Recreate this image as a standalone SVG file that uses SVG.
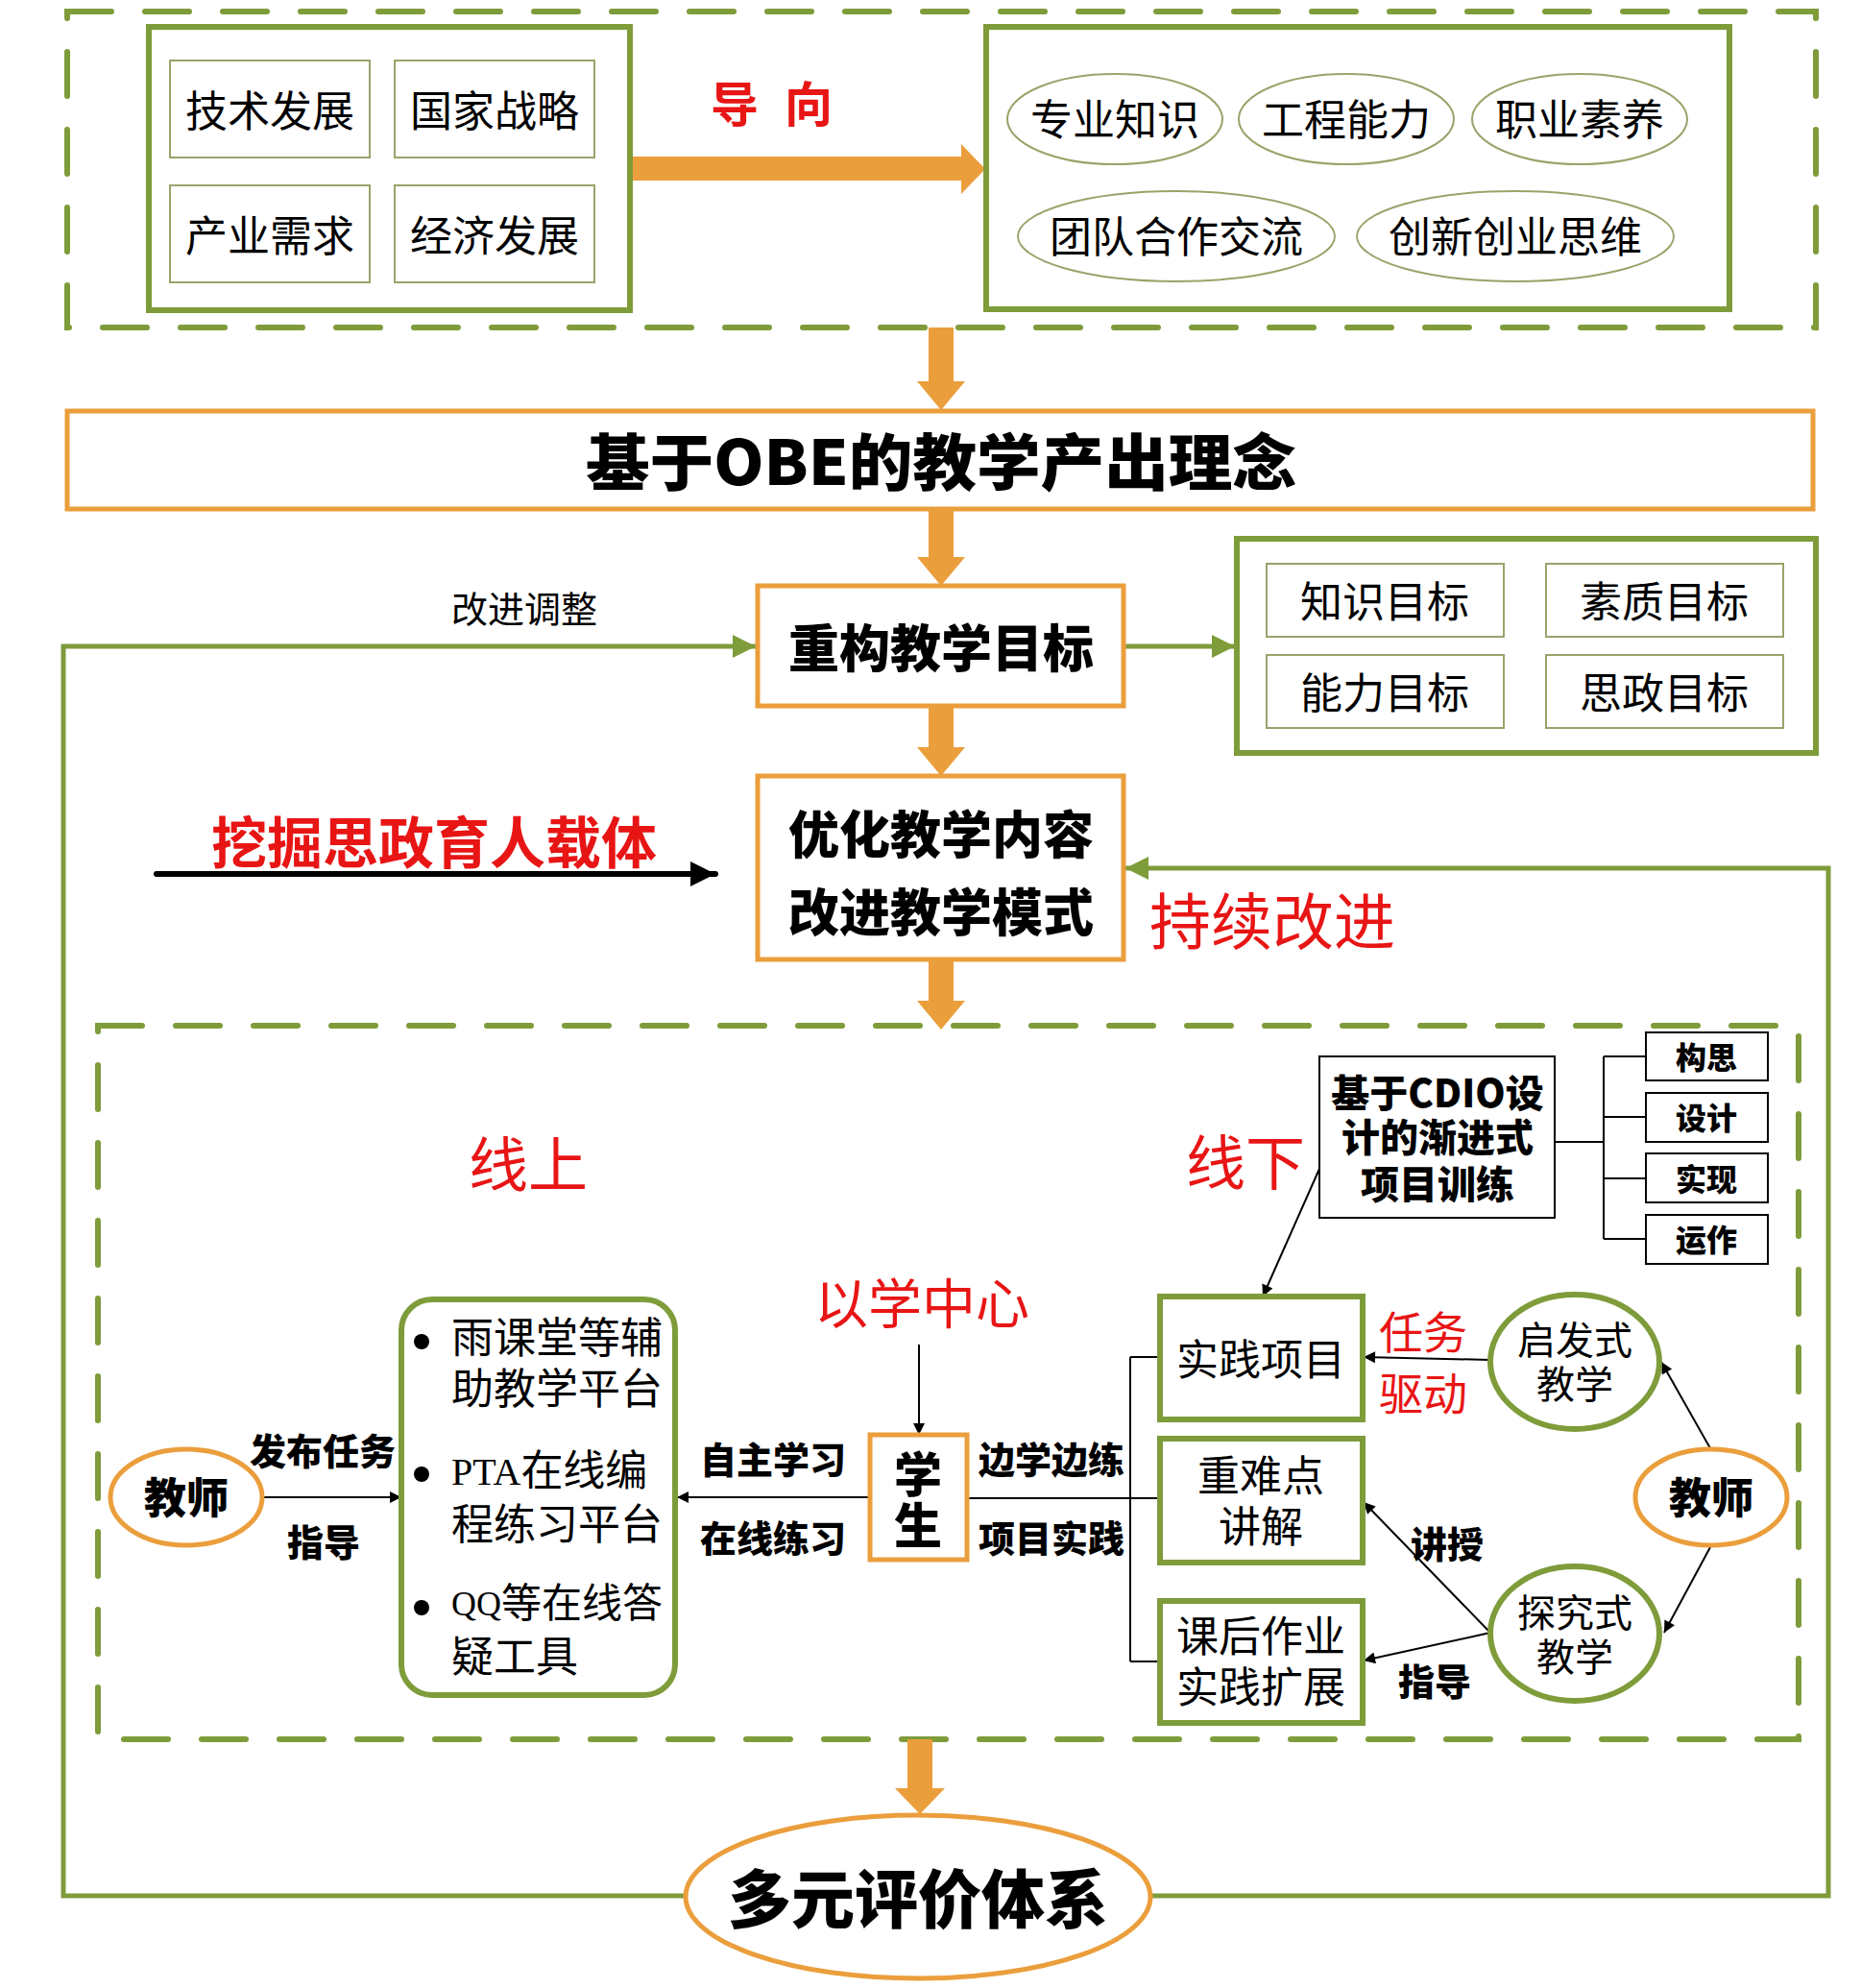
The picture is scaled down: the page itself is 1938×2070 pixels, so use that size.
<svg xmlns="http://www.w3.org/2000/svg" width="1938" height="2070" viewBox="0 0 1938 2070">
<style>
.dash{fill:none;stroke:#7E9C3A;stroke-width:6;stroke-dasharray:46 35;stroke-linecap:round}
.gbox{fill:#fff;stroke:#7E9C3A;stroke-width:6}
.tbox{fill:#fff;stroke:#9AA36A;stroke-width:2}
.tell{fill:#fff;stroke:#9AA36A;stroke-width:2}
.obox{fill:#fff;stroke:#EB9E3C;stroke-width:5}
.kbox{fill:#fff;stroke:#000;stroke-width:2}
.oarrow{fill:#EB9E3C}
.gline{fill:none;stroke:#7E9C3A;stroke-width:5}
.kline{fill:none;stroke:#000;stroke-width:2}
.t{font-family:"Noto Sans CJK SC","Noto Sans",sans-serif;text-anchor:middle;dominant-baseline:central;fill:#000}
.s{font-family:"Liberation Serif","Noto Sans CJK SC",serif;dominant-baseline:central;fill:#000}
.b{font-weight:700}
.h{font-weight:900}
.r{fill:#E81515}
</style>
<defs>
<marker id="ga" viewBox="0 0 10 10" refX="10" refY="5" markerUnits="userSpaceOnUse" markerWidth="24" markerHeight="26" orient="auto"><path d="M0,0 L10,5 L0,10 z" fill="#7E9C3A"/></marker>
<marker id="ka" viewBox="0 0 10 10" refX="10" refY="5" markerUnits="userSpaceOnUse" markerWidth="16" markerHeight="12" orient="auto"><path d="M0,0 L10,5 L0,10 z" fill="#000"/></marker>
<marker id="kb" viewBox="0 0 10 10" refX="10" refY="5" markerUnits="userSpaceOnUse" markerWidth="36" markerHeight="26" orient="auto"><path d="M0,0 L10,5 L0,10 z" fill="#000"/></marker>
</defs>

<!-- dashed frames -->
<rect class="dash" x="70" y="12" width="1821" height="329"/>
<rect class="dash" x="102" y="1068" width="1771" height="743"/>

<!-- connectors -->
<g id="connectors">
<polygon class="oarrow" points="656,163 1001,163 1001,150 1026,176 1001,202 1001,188 656,188"/>
<polygon class="oarrow" points="967,341 993,341 993,397 1005,397 980,427 955,397 967,397"/>
<polygon class="oarrow" points="967,531 993,531 993,580 1005,580 980,610 955,580 967,580"/>
<polygon class="oarrow" points="967,735 993,735 993,778 1005,778 980,808 955,778 967,778"/>
<polygon class="oarrow" points="967,999 993,999 993,1042 1005,1042 980,1072 955,1042 967,1042"/>
<polygon class="oarrow" points="945,1811 971,1811 971,1862 984,1862 958,1889 932,1862 945,1862"/>
<path class="gline" d="M714,1974 L66,1974 L66,673 L787,673" marker-end="url(#ga)"/>
<path class="gline" d="M1198,1974 L1904,1974 L1904,904 L1172,904" marker-end="url(#ga)"/>
<path class="gline" d="M1170,673 L1286,673" marker-end="url(#ga)"/>
<path d="M163,910 L745,910" stroke="#000" stroke-width="6" stroke-linecap="round" marker-end="url(#kb)"/>
<path class="kline" d="M274,1559 L418,1559" marker-end="url(#ka)"/>
<path class="kline" d="M906,1559 L705,1559" marker-end="url(#ka)"/>
<path class="kline" d="M957,1400 L957,1494" marker-end="url(#ka)"/>
<path class="kline" d="M1007,1560 L1177,1560 M1177,1413 L1177,1730 M1177,1413 L1209,1413 M1177,1560 L1209,1560 M1177,1730 L1209,1730"/>
<path class="kline" d="M1619,1189 L1670,1189 M1670,1100 L1670,1290 M1670,1100 L1714,1100 M1670,1163 L1714,1163 M1670,1227 L1714,1227 M1670,1290 L1714,1290"/>
<path class="kline" d="M1374,1217 L1315,1350" marker-end="url(#ka)"/>
<path class="kline" d="M1781,1508 L1730,1418" marker-end="url(#ka)"/>
<path class="kline" d="M1781,1611 L1733,1700" marker-end="url(#ka)"/>
<path class="kline" d="M1552,1416 L1420,1413" marker-end="url(#ka)"/>
<path class="kline" d="M1552,1700 L1420,1564" marker-end="url(#ka)"/>
<path class="kline" d="M1552,1700 L1420,1729" marker-end="url(#ka)"/>
</g>

<!-- top-left drivers -->
<g id="drivers">
<rect class="gbox" x="155" y="28" width="501" height="295"/>
<rect class="tbox" x="177" y="63" width="208" height="101"/>
<rect class="tbox" x="411" y="63" width="208" height="101"/>
<rect class="tbox" x="177" y="193" width="208" height="101"/>
<rect class="tbox" x="411" y="193" width="208" height="101"/>
<text class="t" x="281" y="113" font-size="44">技术发展</text>
<text class="t" x="515" y="113" font-size="44">国家战略</text>
<text class="t" x="281" y="243" font-size="44">产业需求</text>
<text class="t" x="515" y="243" font-size="44">经济发展</text>
</g>

<g id="label-guide">
<text class="t r b" font-size="50" y="105"><tspan x="765">导</tspan><tspan x="842">向</tspan></text>
</g>

<!-- top-right abilities -->
<g id="abilities">
<rect class="gbox" x="1027" y="28" width="774" height="294"/>
<ellipse class="tell" cx="1161" cy="124" rx="112" ry="47"/>
<ellipse class="tell" cx="1402" cy="124" rx="112" ry="47"/>
<ellipse class="tell" cx="1645" cy="124" rx="112" ry="47"/>
<ellipse class="tell" cx="1225" cy="246" rx="165" ry="47"/>
<ellipse class="tell" cx="1578" cy="246" rx="165" ry="47"/>
<text class="t" x="1161" y="122" font-size="44">专业知识</text>
<text class="t" x="1402" y="122" font-size="44">工程能力</text>
<text class="t" x="1645" y="122" font-size="44">职业素养</text>
<text class="t" x="1225" y="244" font-size="44">团队合作交流</text>
<text class="t" x="1578" y="244" font-size="44">创新创业思维</text>
</g>

<g id="obe">
<rect class="obox" x="70" y="428" width="1818" height="102"/>
<text class="t h" x="980" y="477" font-size="64" textLength="740" lengthAdjust="spacingAndGlyphs">基于OBE的教学产出理念</text>
</g>

<g id="label-adjust">
<text class="t" x="546" y="631" font-size="38">改进调整</text>
</g>

<g id="goals">
<rect class="obox" x="789" y="610" width="381" height="125"/>
<text class="t h" x="980" y="672" font-size="53">重构教学目标</text>
</g>

<g id="goal-types">
<rect class="gbox" x="1288" y="561" width="603" height="223"/>
<rect class="tbox" x="1319" y="587" width="247" height="76"/>
<rect class="tbox" x="1610" y="587" width="247" height="76"/>
<rect class="tbox" x="1319" y="682" width="247" height="76"/>
<rect class="tbox" x="1610" y="682" width="247" height="76"/>
<text class="t" x="1442" y="624" font-size="44">知识目标</text>
<text class="t" x="1733" y="624" font-size="44">素质目标</text>
<text class="t" x="1442" y="719" font-size="44">能力目标</text>
<text class="t" x="1733" y="719" font-size="44">思政目标</text>
</g>

<g id="optimize">
<rect class="obox" x="789" y="808" width="381" height="191"/>
<text class="t h" font-size="53"><tspan x="980" y="866">优化教学内容</tspan><tspan x="980" y="947">改进教学模式</tspan></text>
</g>

<g id="label-ideology">
<text class="t r b" x="452" y="874" font-size="58">挖掘思政育人载体</text>
</g>
<g id="label-improve">
<text class="t r" x="1325" y="955" font-size="64">持续改进</text>
</g>

<g id="label-online">
<text class="t r" x="550" y="1209" font-size="62">线上</text>
</g>
<g id="label-offline">
<text class="t r" x="1297" y="1207" font-size="62">线下</text>
</g>
<g id="label-center">
<text class="t r" x="960" y="1353" font-size="56">以学中心</text>
</g>

<g id="teacher-left">
<ellipse cx="194" cy="1559" rx="79" ry="50" fill="#fff" stroke="#EB9E3C" stroke-width="5"/>
<text class="t h" x="194" y="1557" font-size="44">教师</text>
</g>
<g id="labels-left">
<text class="t h" x="336" y="1508" font-size="38">发布任务</text>
<text class="t h" x="337" y="1603" font-size="38">指导</text>
<text class="t h" x="805" y="1517" font-size="38">自主学习</text>
<text class="t h" x="805" y="1599" font-size="38">在线练习</text>
<text class="t h" x="1095" y="1517" font-size="38">边学边练</text>
<text class="t h" x="1095" y="1599" font-size="38">项目实践</text>
</g>

<g id="platforms">
<rect x="418" y="1353" width="285" height="412" rx="32" fill="#fff" stroke="#7E9C3A" stroke-width="6"/>
<circle cx="439" cy="1397" r="8" fill="#000"/>
<circle cx="439" cy="1535" r="8" fill="#000"/>
<circle cx="439" cy="1674" r="8" fill="#000"/>
<text class="s" font-size="44"><tspan x="470" y="1394">雨课堂等辅</tspan><tspan x="470" y="1447">助教学平台</tspan></text>
<text class="s" font-size="44"><tspan x="470" y="1532"><tspan font-size="40">PTA</tspan>在线编</tspan><tspan x="470" y="1588">程练习平台</tspan></text>
<text class="s" font-size="44"><tspan x="470" y="1670" font-size="42"><tspan font-size="36">QQ</tspan>等在线答</tspan><tspan x="470" y="1726">疑工具</tspan></text>
</g>

<g id="student">
<rect class="obox" x="906" y="1494" width="101" height="130"/>
<text class="t h" font-size="50"><tspan x="956" y="1532">学</tspan><tspan x="956" y="1585">生</tspan></text>
</g>

<g id="project">
<rect class="gbox" x="1208" y="1350" width="211" height="128"/>
<text class="t" x="1313" y="1413" font-size="44">实践项目</text>
</g>
<g id="keypoints">
<rect class="gbox" x="1208" y="1498" width="211" height="129"/>
<text class="t" font-size="44"><tspan x="1313" y="1534">重难点</tspan><tspan x="1313" y="1587">讲解</tspan></text>
</g>
<g id="homework">
<rect class="gbox" x="1208" y="1667" width="211" height="127"/>
<text class="t" font-size="44"><tspan x="1313" y="1701">课后作业</tspan><tspan x="1313" y="1754">实践扩展</tspan></text>
</g>

<g id="cdio">
<rect class="kbox" x="1374" y="1100" width="245" height="168"/>
<text class="t h" font-size="40"><tspan x="1497" y="1136">基于CDIO设</tspan><tspan x="1497" y="1182">计的渐进式</tspan><tspan x="1497" y="1231">项目训练</tspan></text>
</g>
<g id="cdio-steps">
<rect class="kbox" x="1714" y="1075" width="127" height="50"/>
<rect class="kbox" x="1714" y="1138" width="127" height="51"/>
<rect class="kbox" x="1714" y="1201" width="127" height="51"/>
<rect class="kbox" x="1714" y="1265" width="127" height="51"/>
<text class="t h" x="1777" y="1099" font-size="32">构思</text>
<text class="t h" x="1777" y="1162" font-size="32">设计</text>
<text class="t h" x="1777" y="1226" font-size="32">实现</text>
<text class="t h" x="1777" y="1289" font-size="32">运作</text>
</g>

<g id="heuristic">
<ellipse cx="1640" cy="1418" rx="88" ry="70" fill="#fff" stroke="#7E9C3A" stroke-width="6"/>
<text class="t" font-size="40"><tspan x="1640" y="1393">启发式</tspan><tspan x="1640" y="1439">教学</tspan></text>
</g>
<g id="inquiry">
<ellipse cx="1640" cy="1701" rx="88" ry="70" fill="#fff" stroke="#7E9C3A" stroke-width="6"/>
<text class="t" font-size="40"><tspan x="1640" y="1677">探究式</tspan><tspan x="1640" y="1723">教学</tspan></text>
</g>
<g id="teacher-right">
<ellipse cx="1782" cy="1559" rx="79" ry="50" fill="#fff" stroke="#EB9E3C" stroke-width="5"/>
<text class="t h" x="1782" y="1557" font-size="44">教师</text>
</g>
<g id="labels-right">
<text class="t r" font-size="46"><tspan x="1482" y="1384">任务</tspan><tspan x="1482" y="1448">驱动</tspan></text>
<text class="t h" x="1507" y="1605" font-size="38">讲授</text>
<text class="t h" x="1494" y="1748" font-size="38">指导</text>
</g>

<g id="evaluation">
<ellipse cx="956" cy="1975" rx="242" ry="85" fill="#fff" stroke="#EB9E3C" stroke-width="5"/>
<text class="t h" x="956" y="1973" font-size="66">多元评价体系</text>
</g>
</svg>
